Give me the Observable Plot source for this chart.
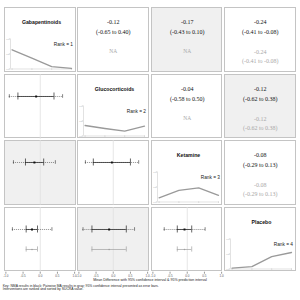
<!DOCTYPE html>
<html><head><meta charset="utf-8">
<script src="https://cdn.jsdelivr.net/npm/d3@7"></script>
<script src="https://cdn.jsdelivr.net/npm/@observablehq/plot@0.6"></script>
<style>
html,body{margin:0;padding:0;background:#fff;}
#chart{position:relative;width:300px;height:300px;overflow:hidden;font-family:"Liberation Sans",Arial,sans-serif;}
#chart svg{display:block;overflow:visible;}
.box{position:absolute;box-sizing:border-box;border:1px solid #c4c4c4;}
.txt{position:absolute;white-space:nowrap;color:#222;line-height:1;}
</style></head><body><div id="chart"></div>
<script>
// ---------- data ----------
const treatments = ["Gabapentinoids", "Glucocorticoids", "Ketamine", "Placebo"];
const ranks = [1, 2, 3, 4];
const rankProbGabapentinoids = [0.64, 0.36, 0.08, 0.02];
const rankProbGlucocorticoids = [0.35, 0.25, 0.16, 0.33];
const rankProbKetamine = [0.14, 0.39, 0.47, 0.22];
const rankProbPlacebo = [0.03, 0.08, 0.41, 0.55];
// comparisons: first treatment index (column of upper cell), second treatment index
const compFirst = [0, 0, 0, 1, 1, 2];
const compSecond = [1, 2, 3, 2, 3, 3];
const nmaEst = [-0.12, -0.17, -0.24, -0.04, -0.12, -0.08];
const nmaLow = [-0.65, -0.43, -0.41, -0.58, -0.62, -0.29];
const nmaHigh = [0.40, 0.10, -0.08, 0.50, 0.38, 0.13];
const piLow = [-0.90, -0.78, -0.81, -0.81, -0.88, -0.67];
const piHigh = [0.65, 0.44, 0.34, 0.74, 0.62, 0.52];
const pwEst = [null, null, -0.24, null, -0.12, -0.08];
const pwLow = [null, null, -0.41, null, -0.62, -0.29];
const pwHigh = [null, null, -0.08, null, 0.38, 0.13];
const xTicks = [-1, -0.5, 0, 0.5, 1];
const rankTicks = [0, 0.5, 1];
const axisTitle = "Mean Difference with 95% confidence interval & 95% prediction interval";
const captionLines = [
  "Key: NMA results in black; Pairwise MA results in gray; 95% confidence interval presented as error bars.",
  "Interventions are ranked and sorted by SUCRA value."
];

// ---------- layout ----------
const rankProbs = [rankProbGabapentinoids, rankProbGlucocorticoids, rankProbKetamine, rankProbPlacebo];
const W = 71.5, H = 64.7;
const colLeft = [4, 77.4, 150.8, 224.2];
const rowTop = [7.3, 73.8, 140.3, 206.8];
const GRAYBG = "#f0f0f0";
const chart = document.getElementById("chart");
const baseStyle = {background: "transparent", overflow: "visible", fontFamily: "Liberation Sans, Arial, sans-serif", fontSize: "3px"};
const fmt = v => v.toFixed(2);

function put(node, left, top) {
  node.style.position = "absolute";
  node.style.left = left + "px";
  node.style.top = top + "px";
  chart.appendChild(node);
}
function box(left, top, bg) {
  const d = document.createElement("div");
  d.className = "box";
  d.style.width = W + "px"; d.style.height = H + "px";
  d.style.background = bg;
  put(d, left, top);
}
function compIndex(a, b) {
  for (let k = 0; k < compFirst.length; k++) if (compFirst[k] === a && compSecond[k] === b) return k;
  return -1;
}

function diagPlot(t) {
  const data = ranks.map((r, i) => ({rank: r, prob: rankProbs[t][i]}));
  const xd = [0.92, 4.05];
  return Plot.plot({
    width: W, height: H, marginTop: 31.5, marginBottom: 3.2, marginLeft: 6, marginRight: 3.5,
    style: baseStyle,
    x: {domain: xd, axis: null},
    y: {domain: [0, 1], axis: null},
    marks: [
      Plot.ruleX([xd[0]], {stroke: "#cfcfcf", strokeWidth: 0.6}),
      Plot.ruleY([0], {stroke: "#cfcfcf", strokeWidth: 0.6}),
      Plot.axisY({ticks: rankTicks, label: null, tickSize: 1.2, tickPadding: 0.4, fontSize: 2, stroke: "#cfcfcf", fill: "#aaa"}),
      Plot.axisX({ticks: ranks, label: null, tickSize: 1.2, tickFormat: () => "", stroke: "#cfcfcf"}),
      Plot.line(data, {x: "rank", y: "prob", stroke: "#9a9a9a", strokeWidth: 1.3}),
      Plot.text([treatments[t]], {frameAnchor: "top", dy: -18.5, fontWeight: "bold", fontSize: 5.2, fill: "#111"}),
      Plot.text(["Rank = " + (t + 1)], {frameAnchor: "top-right", textAnchor: "end", dy: 3.2, dx: 0.5, fontSize: 4.8, fill: "#222"})
    ]
  });
}

function textPlot(k) {
  const serif = "Liberation Serif, Times New Roman, serif";
  const marks = [
    Plot.text([fmt(nmaEst[k])], {frameAnchor: "top", dy: 12.7, fontFamily: serif, fontSize: 6, fill: "#111"}),
    Plot.text(["(" + fmt(nmaLow[k]) + " to " + fmt(nmaHigh[k]) + ")"], {frameAnchor: "top", dy: 22, fontFamily: serif, fontSize: 6, fill: "#111"})
  ];
  if (pwEst[k] == null) {
    marks.push(Plot.text(["NA"], {frameAnchor: "top", dy: 42, fontFamily: serif, fontSize: 5.5, fill: "#aaa"}));
  } else {
    marks.push(Plot.text([fmt(pwEst[k])], {frameAnchor: "top", dy: 42, fontFamily: serif, fontSize: 6, fill: "#a8a8a8"}));
    marks.push(Plot.text(["(" + fmt(pwLow[k]) + " to " + fmt(pwHigh[k]) + ")"], {frameAnchor: "top", dy: 51.5, fontFamily: serif, fontSize: 6, fill: "#a8a8a8"}));
  }
  return Plot.plot({
    width: W, height: H, margin: 0, style: baseStyle,
    x: {axis: null}, y: {axis: null},
    marks
  });
}

function forestPlot(k, withAxis) {
  const nma = [{track: "NMA", est: nmaEst[k], lo: nmaLow[k], hi: nmaHigh[k], plo: piLow[k], phi: piHigh[k]}];
  const pw = pwEst[k] == null ? [] : [{track: "Pairwise", est: pwEst[k], lo: pwLow[k], hi: pwHigh[k]}];
  const mb = withAxis ? 9 : 0;
  const marks = [
    Plot.ruleX([0], {stroke: "#dedede", strokeWidth: 0.8}),
    Plot.ruleY(nma, {y: "track", x1: "plo", x2: "phi", stroke: "#333", strokeWidth: 0.7, strokeDasharray: "0.8,1.2"}),
    Plot.tickX(nma, {x: "plo", y: "track", stroke: "#333", strokeWidth: 0.6, insetTop: 0.2, insetBottom: 0.2}),
    Plot.tickX(nma, {x: "phi", y: "track", stroke: "#333", strokeWidth: 0.6, insetTop: 0.2, insetBottom: 0.2}),
    Plot.ruleY(nma, {y: "track", x1: "lo", x2: "hi", stroke: "#333", strokeWidth: 0.8}),
    Plot.tickX(nma, {x: "lo", y: "track", stroke: "#222", strokeWidth: 0.7, insetTop: -1.5, insetBottom: -1.5}),
    Plot.tickX(nma, {x: "hi", y: "track", stroke: "#222", strokeWidth: 0.7, insetTop: -1.5, insetBottom: -1.5}),
    Plot.dot(nma, {x: "est", y: "track", symbol: "square", r: 1.1, fill: "#111", stroke: "none"}),
    Plot.ruleY(pw, {y: "track", x1: "lo", x2: "hi", stroke: "#a0a0a0", strokeWidth: 0.7}),
    Plot.tickX(pw, {x: "lo", y: "track", stroke: "#a0a0a0", strokeWidth: 0.7, insetTop: -0.6, insetBottom: -0.6}),
    Plot.tickX(pw, {x: "hi", y: "track", stroke: "#a0a0a0", strokeWidth: 0.7, insetTop: -0.6, insetBottom: -0.6}),
    Plot.dot(pw, {x: "est", y: "track", r: 0.8, fill: "#a0a0a0", stroke: "none"})
  ];
  if (withAxis) marks.push(Plot.axisX({ticks: xTicks, label: null, tickSize: 2, tickPadding: 0.8, fontSize: 3, stroke: "#999", fill: "#555", tickFormat: d => d.toFixed(1)}));
  return Plot.plot({
    width: W, height: H + mb, marginTop: 0, marginBottom: mb, marginLeft: 0, marginRight: 0,
    style: baseStyle,
    x: {domain: [-1.04, 1.04], axis: null},
    y: {type: "band", domain: ["NMA", "Pairwise"], paddingInner: 0.8, paddingOuter: 0.9625, axis: null},
    marks
  });
}

for (let i = 0; i < 4; i++) {
  for (let j = 0; j < 4; j++) {
    const bg = Math.abs(i - j) === 2 ? GRAYBG : "#fff";
    box(colLeft[j], rowTop[i], bg);
    let node;
    if (i === j) node = diagPlot(i);
    else if (i < j) node = textPlot(compIndex(i, j));
    else node = forestPlot(compIndex(j, i), i === 3);
    put(node, colLeft[j], rowTop[i]);
  }
}

const title = document.createElement("div");
title.className = "txt";
title.style.fontSize = "3.6px";
title.style.width = "300px"; title.style.textAlign = "center";
title.textContent = axisTitle;
put(title, 0, 278.7);

captionLines.forEach((line, n) => {
  const c = document.createElement("div");
  c.className = "txt";
  c.style.fontSize = "3.4px";
  c.textContent = line;
  put(c, 2.7, 285.2 + n * 2.9);
});
</script>
</body></html>
